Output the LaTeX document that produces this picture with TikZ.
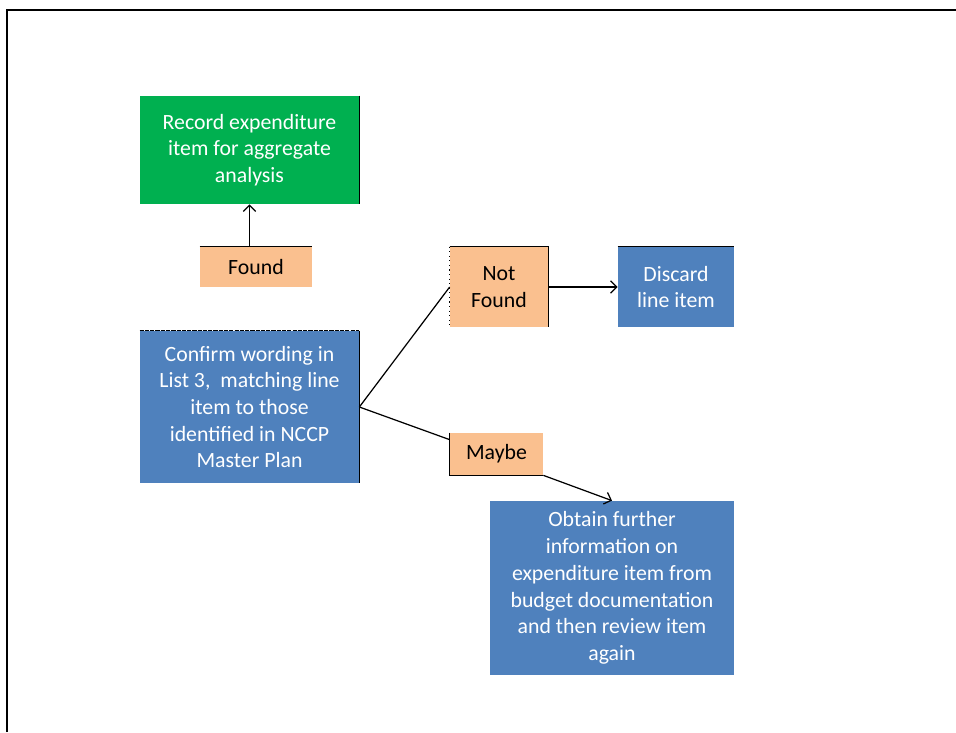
\documentclass[tikz,border=0pt]{standalone}
\usepackage{fontspec}
\setmainfont{Carlito}
\usepackage{xcolor}
\usepackage{tikz}
\usetikzlibrary{arrows.meta}
\definecolor{recordcolor}{HTML}{00B050}
\definecolor{stepcolor}{HTML}{4F81BD}
\definecolor{answercolor}{HTML}{FAC08F}
\tikzset{
  stepbox/.style={rectangle, fill=stepcolor, text=white, align=center, inner sep=0pt, font=\fontsize{12.4}{15.2}\selectfont},
  answerbox/.style={rectangle, fill=answercolor, text=black, align=center, inner sep=0pt, font=\fontsize{12.4}{15.2}\selectfont},
  edge/.style={draw=black, line width=0.6pt},
  link/.style={draw=black, line width=0.7pt},
  tip/.style={-{Straight Barb[length=3.5pt, width=7pt]}}
}

\begin{document}
\begin{tikzpicture}%
\useasboundingbox (0,0) rectangle (19.12,-14.64);%
% frame
\draw[line width=1.3pt] (0.14,-14.64) -- (0.14,-0.2) -- (19.12,-0.2);%
% boxes
\node[stepbox, fill=recordcolor, minimum width=4.38cm, minimum height=2.16cm] (record) at (4.99,-3.0) {Record expenditure\\item for aggregate\\analysis};%
\node[answerbox, minimum width=2.24cm, minimum height=0.8cm] (found) at (5.12,-5.34) {Found};%
\node[stepbox, minimum width=4.38cm, minimum height=3.04cm] (confirm) at (4.99,-8.14) {Confirm wording in\\List 3,\ \ matching line\\item to those\\identified in NCCP\\Master Plan};%
\node[answerbox, minimum width=1.96cm, minimum height=1.6cm] (notfound) at (9.98,-5.74) {Not\\Found};%
\node[stepbox, minimum width=2.32cm, minimum height=1.6cm] (discard) at (13.52,-5.74) {Discard\\line item};%
\node[answerbox, minimum width=1.86cm, minimum height=0.84cm] (maybe) at (9.93,-9.08) {Maybe};%
\node[stepbox, minimum width=4.88cm, minimum height=3.48cm] (obtain) at (12.24,-11.76) {Obtain further\\information on\\expenditure item from\\budget documentation\\and then review item\\again};%
% box edges
\draw[edge] (record.north east) -- (record.south east);%
\draw[edge] (found.north west) -- (found.north east);%
\draw[edge, dash pattern=on 2.4pt off 0.6pt] (confirm.north west) -- (confirm.north east);%
\draw[edge] (confirm.north east) -- (confirm.south east);%
\draw[edge] (notfound.north west) -- (notfound.north east) -- (notfound.south east);%
\draw[edge, dotted] (notfound.north west) -- (notfound.south west);%
\draw[edge] (discard.north west) -- (discard.north east);%
\draw[edge] (maybe.north west) -- (maybe.south west) -- (maybe.south east);%
% connectors
\draw[link, tip] (record.south |- found.north) -- (record.south);%
\draw[link] (confirm.east) -- (notfound.west);%
\draw[link, tip] (notfound.east) -- (discard.west);%
\draw[link] (confirm.east) -- ([yshift=-0.14cm]maybe.north west);%
\draw[link, tip] (maybe.south east) -- (obtain.north);%
\end{tikzpicture}
\end{document}
